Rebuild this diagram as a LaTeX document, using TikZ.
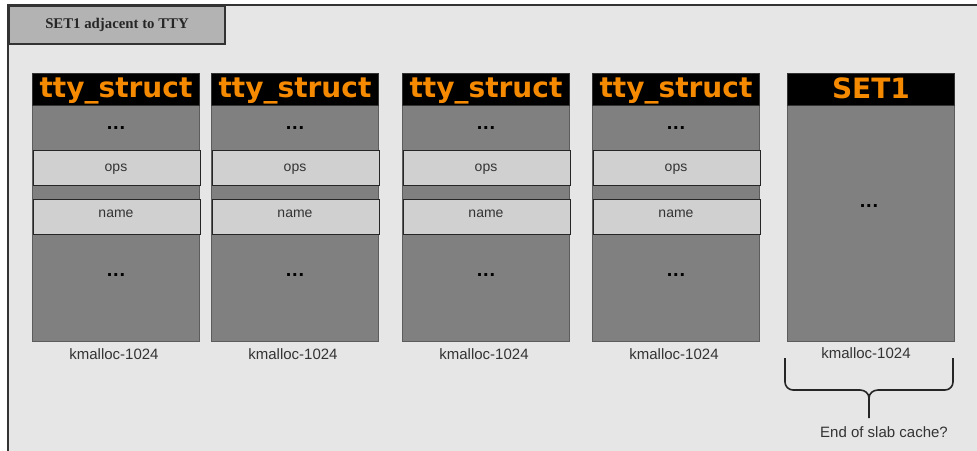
\documentclass[tikz,border=0pt]{standalone}
\usepackage{fontspec}
\setmainfont{Liberation Serif}
\setsansfont{Liberation Sans}
\newfontfamily\hdrfont{DejaVu Sans}
\definecolor{bgc}{HTML}{E6E6E6}
\definecolor{framec}{HTML}{333333}
\definecolor{titlec}{HTML}{B3B3B3}
\definecolor{bodyc}{HTML}{808080}
\definecolor{fieldc}{HTML}{D0D0D0}
\definecolor{orangec}{HTML}{F58A00}
\definecolor{textc}{HTML}{333333}
\tikzset{
  hdr/.style={draw=framec, line width=0.8pt, fill=black, minimum width=167pt, minimum height=32pt, inner sep=0pt, anchor=north west},
  hdrtext/.style={font=\hdrfont\bfseries\fontsize{28}{28}\selectfont, text=orangec, inner sep=0pt},
  bodybox/.style={draw=framec!80, line width=1pt, fill=bodyc, minimum width=167pt, inner sep=0pt, anchor=north west},
  fieldbox/.style={draw=black!85, line width=0.9pt, fill=fieldc, minimum width=167pt, minimum height=35pt, inner sep=0pt, anchor=north west},
  fieldtext/.style={font=\sffamily\fontsize{14}{14}\selectfont, text=textc, inner sep=0pt, anchor=base},
  dotsn/.style={font=\sffamily\bfseries\fontsize{20}{20}\selectfont, text=black, inner sep=0pt},
  lbl/.style={font=\sffamily\fontsize{15}{15}\selectfont, text=textc, inner sep=0pt},
}
\newcommand{\mydots}{.\kern0.8pt.\kern0.8pt.}
\begin{document}
\begin{tikzpicture}[x=1pt,y=-1pt]
\useasboundingbox (0,0) rectangle (977,450);
\fill[white] (0,0) rectangle (977,450);
\fill[bgc] (8,5) rectangle (980,453);
\draw[framec, line width=2pt] (8,453) -- (8,5) -- (980,5);
\node[draw=framec, line width=2pt, fill=titlec, minimum width=216pt, minimum height=38pt, inner sep=0pt, anchor=north west,
  font=\bfseries\fontsize{14.8}{14.8}\selectfont, text=black!85] (title) at (8,5) {SET1 adjacent to TTY};
\foreach \i/\x in {1/32,2/211,3/402,4/592}{
  \node[bodybox, minimum height=236pt] (b\i) at (\x,105) {};
  \node[hdr] (h\i) at (\x,73) {};
  \node[hdrtext, anchor=base] (t\i) at (\x+84,97) {tty\_struct};
  \node[fieldbox] (o\i) at (\x+1,149.5) {};
  \node[fieldtext] (ot\i) at (\x+84,171) {ops};
  \node[fieldbox] (n\i) at (\x+1,198.5) {};
  \node[fieldtext] (nt\i) at (\x+84,217) {name};
  \node[dotsn, anchor=base] (dt\i) at (\x+84,129) {\mydots};
  \node[dotsn, anchor=base] (db\i) at (\x+84,276) {\mydots};
  \node[lbl] (k\i) at (\x+82,354) {kmalloc-1024};
}
\node[bodybox, minimum height=236pt] (bs) at (787,105) {};
\node[hdr] (hs) at (787,73) {};
\node[hdrtext, anchor=base] (ts) at (871,98) {SET1};
\node[dotsn, anchor=base] (ds) at (869,207) {\mydots};
\node[lbl] (ks) at (866,353) {kmalloc-1024};
\coordinate (bl) at (785,358);
\coordinate (br) at (953,358);
\coordinate (bt) at (869,418);
\coordinate (bm) at (869,398);
\draw[black!85, line width=1.6pt] (bl) -- (785,382) to[out=-90,in=180] (793,390) -- (860,390) to[out=0,in=90] (bm) -- (bt);
\draw[black!85, line width=1.6pt] (br) -- (953,382) to[out=-90,in=0] (945,390) -- (878,390) to[out=180,in=90] (bm);
\node[lbl] (end) at (884,432) {End of slab cache?};
\end{tikzpicture}
\end{document}
